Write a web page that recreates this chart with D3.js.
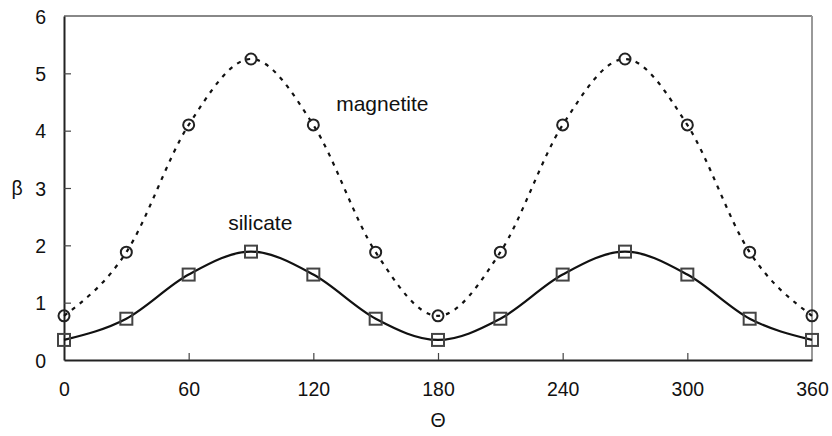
<!DOCTYPE html>
<html>
<head>
<meta charset="utf-8">
<script src="https://cdn.jsdelivr.net/npm/d3@7"></script>
<style>
  body { margin: 0; background: #fff; }
  svg text { font-family: "Liberation Sans", Arial, Helvetica, sans-serif; fill: #111; }
</style>
</head>
<body>
<div id="chart"></div>
<script>
var theta     = [0, 30, 60, 90, 120, 150, 180, 210, 240, 270, 300, 330, 360];
var magnetite = [0.77, 1.88, 4.1, 5.25, 4.1, 1.88, 0.77, 1.88, 4.1, 5.25, 4.1, 1.88, 0.77];
var silicate  = [0.35, 0.72, 1.49, 1.89, 1.49, 0.72, 0.35, 0.72, 1.49, 1.89, 1.49, 0.72, 0.35];
var xTicks    = [0, 60, 120, 180, 240, 300, 360];
var yTicks    = [0, 1, 2, 3, 4, 5, 6];

var W = 832, H = 436;
var margin = { top: 16, right: 20, bottom: 76, left: 64 };
var iW = W - margin.left - margin.right;
var iH = H - margin.top - margin.bottom;

var svg = d3.select("#chart").append("svg")
    .attr("width", W).attr("height", H);
var g = svg.append("g")
    .attr("transform", "translate(" + margin.left + "," + margin.top + ")");

var x = d3.scaleLinear().domain([0, 360]).range([0, iW]);
var y = d3.scaleLinear().domain([0, 6]).range([iH, 0]);

// frame: top/right lighter
g.append("line").attr("x1", 0).attr("x2", iW).attr("y1", 0).attr("y2", 0)
    .attr("stroke", "#888").attr("stroke-width", 2);
g.append("line").attr("x1", iW).attr("x2", iW).attr("y1", 0).attr("y2", iH)
    .attr("stroke", "#999").attr("stroke-width", 2);

// axes (ticks pointing inward)
var fmt = d3.format("d");
var xAxis = g.append("g").attr("transform", "translate(0," + iH + ")")
    .call(d3.axisBottom(x).tickValues(xTicks).tickFormat(fmt)
        .tickSize(-7).tickSizeOuter(0).tickPadding(22));
var yAxis = g.append("g")
    .call(d3.axisLeft(y).tickValues(yTicks).tickFormat(fmt)
        .tickSize(-7).tickSizeOuter(0).tickPadding(18));

[xAxis, yAxis].forEach(function (a) {
    a.select(".domain").attr("stroke", "#222").attr("stroke-width", 2);
    a.selectAll(".tick line").attr("stroke", "#444").attr("stroke-width", 1.2);
    a.selectAll(".tick text")
        .style("font-size", "19.5px")
        .attr("fill", "#111");
});
yAxis.selectAll(".tick text").attr("dy", "0.36em");
yAxis.selectAll(".tick").filter(function (d) { return d === 0 || d === 6; })
    .select("line").remove();
xAxis.selectAll(".tick").filter(function (d) { return d === 0 || d === 360; })
    .select("line").remove();

// axis labels
svg.append("text")
    .attr("x", 17).attr("y", margin.top + y(3) + 7)
    .attr("text-anchor", "middle")
    .style("font-size", "19.5px")
    .text("β");
svg.append("text")
    .attr("x", margin.left + x(180)).attr("y", 427)
    .attr("text-anchor", "middle")
    .style("font-size", "19.5px")
    .text("Θ");

// lines
var line = function (vals) {
    return d3.line()
        .x(function (d, i) { return x(theta[i]); })
        .y(function (d) { return y(d); })
        .curve(d3.curveMonotoneX)(vals);
};

g.append("path")
    .attr("d", line(magnetite))
    .attr("fill", "none")
    .attr("stroke", "#111")
    .attr("stroke-width", 2.2)
    .attr("stroke-dasharray", "4 6");

g.append("path")
    .attr("d", line(silicate))
    .attr("fill", "none")
    .attr("stroke", "#111")
    .attr("stroke-width", 2.2);

// markers
g.selectAll(".mk-mag").data(magnetite).enter().append("circle")
    .attr("class", "mk-mag")
    .attr("cx", function (d, i) { return x(theta[i]); })
    .attr("cy", function (d) { return y(d); })
    .attr("r", 5.5)
    .attr("fill", "none")
    .attr("stroke", "#222")
    .attr("stroke-width", 2);

g.selectAll(".mk-sil").data(silicate).enter().append("rect")
    .attr("class", "mk-sil")
    .attr("x", function (d, i) { return x(theta[i]) - 6; })
    .attr("y", function (d) { return y(d) - 6; })
    .attr("width", 12).attr("height", 12)
    .attr("fill", "none")
    .attr("stroke", "#444")
    .attr("stroke-width", 2);

// series labels
g.append("text")
    .attr("x", x(131)).attr("y", y(4.35))
    .style("font-size", "21px")
    .text("magnetite");
g.append("text")
    .attr("x", x(79)).attr("y", y(2.27))
    .style("font-size", "21px")
    .text("silicate");
</script>
</body>
</html>
